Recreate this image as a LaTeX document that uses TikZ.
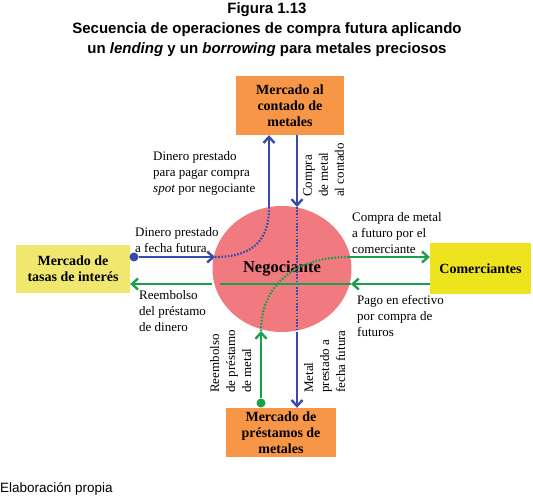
\documentclass[tikz,border=0pt]{standalone}
\usepackage{fontspec}
\setmainfont{Liberation Serif}
\newfontfamily\titlefont{Liberation Sans}
\usepackage{xcolor}
\definecolor{boxorange}{RGB}{247,150,70}
\definecolor{boxyellow}{RGB}{240,232,110}
\definecolor{boxyellowb}{RGB}{238,228,30}
\definecolor{negpink}{RGB}{240,122,128}
\definecolor{flowblue}{RGB}{55,75,170}
\definecolor{flowgreen}{RGB}{25,160,75}
\usepackage{tikz}
\usetikzlibrary{positioning, shapes.geometric, arrows.meta, calc}

\begin{document}
\begin{tikzpicture}[
    x=1pt, y=-1pt,
    market/.style={rectangle, inner sep=2pt, align=center,
                   font=\fontsize{14}{16}\selectfont\bfseries},
    flowlabel/.style={align=left, inner sep=0pt,
                      font=\fontsize{13}{16}\selectfont},
    sidelabel/.style={flowlabel, rotate=90, anchor=north west},
    bluearrow/.style={flowblue, line width=2.4pt, -{Straight Barb[length=6pt, width=11pt, line width=2.4pt]}},
    greenarrow/.style={flowgreen, line width=2.4pt, -{Straight Barb[length=6pt, width=11pt, line width=2.4pt]}},
    blueline/.style={flowblue, line width=2.4pt},
    greenline/.style={flowgreen, line width=2.4pt},
    bluedots/.style={flowblue, line width=2.2pt, dash pattern=on 1.6pt off 1.6pt},
    greendots/.style={flowgreen, line width=2.2pt, dash pattern=on 1.6pt off 1.6pt},
    startdot/.style={circle, inner sep=0pt, minimum size=9pt},
  ]
    \useasboundingbox (0,0) rectangle (533,497);

    % --- Title ---
    \node[font=\titlefont\fontsize{15}{20}\selectfont\bfseries, align=center] (title) at (267,30)
      {Figura 1.13\\Secuencia de operaciones de compra futura aplicando\\
       un \textit{lending} y un \textit{borrowing} para metales preciosos};

    % --- Markets ---
    \node[market, fill=boxorange, minimum width=108pt, minimum height=59pt] (spot) at (290,105.5)
      {Mercado al\\contado de\\metales};
    \node[market, fill=boxyellow, minimum width=114pt, minimum height=48pt] (rates) at (73,269)
      {Mercado de\\tasas de interés};
    \node[market, fill=boxyellowb, minimum width=101pt, minimum height=51pt] (traders) at (480.5,268.5)
      {Comerciantes};
    \node[market, fill=boxorange, minimum width=110pt, minimum height=49pt] (lending) at (281,432.5)
      {Mercado de\\préstamos de\\metales};

    % --- Negociante ---
    \node[ellipse, fill=negpink, minimum width=139pt, minimum height=126pt, inner sep=0pt,
          font=\fontsize{16.5}{18}\selectfont\bfseries] (neg) at (282,269) {\raisebox{3pt}{Negociante}};

    % --- Points on the flows ---
    \coordinate (bin)   at (215,257);
    \coordinate (bup)   at (269,208);
    \coordinate (bdtop) at (297,207);
    \coordinate (bdbot) at (297,332);
    \coordinate (gin)   at (261,331);
    \coordinate (gout)  at (349,257);
    \coordinate (gpay)  at (351,284);
    \coordinate (gleft) at (220,284);

    \node[startdot, fill=flowblue] (bdot) at (134,257) {};
    \node[startdot, fill=flowgreen] (gdot) at (261,403) {};

    % --- Blue flows ---
    \draw[bluearrow] (bdot) -- (bin);
    \draw[bluedots] (bin) .. controls (255,257) and (269,238) .. (bup);
    \draw[bluearrow] (bup) -- (bup |- spot.south);
    \draw[bluearrow] (bdtop |- spot.south) -- (bdtop);
    \draw[bluedots] (bdtop) -- (bdbot);
    \draw[bluearrow] (bdbot) -- (bdbot |- lending.north);

    % --- Green flows ---
    \draw[greenarrow] (gdot) -- (gin);
    \draw[greendots] (gin) .. controls (261,285) and (295,257) .. (gout);
    \draw[greenarrow] (gout) -- (gout -| traders.west);
    \draw[greenarrow] (gpay -| traders.west) -- (gpay);
    \draw[greenline] (gpay) -- (gleft);
    \draw[greenarrow] (neg.west |- gleft) -- (gleft -| rates.east);

    % --- Labels ---
    \node[flowlabel, anchor=north west] (lbspot) at (153,151)
      {Dinero prestado\\para pagar compra\\\textit{spot} por negociante};
    \node[flowlabel, anchor=south west] (lbfut) at (135,253)
      {Dinero prestado\\a fecha futura};
    \node[flowlabel, anchor=north west] (lbrep) at (139,290)
      {Reembolso\\del préstamo\\de dinero};
    \node[flowlabel, anchor=south west] (lbbuy) at (352,254)
      {Compra de metal\\a futuro por el\\comerciante};
    \node[flowlabel, anchor=north west] (lbpay) at (357,295)
      {Pago en efectivo\\por compra de\\futuros};
    \node[sidelabel] (lbcont) at (303,197)
      {Compra\\de metal\\al contado};
    \node[sidelabel] (lbmet) at (210,393)
      {Reembolso\\de préstamo\\de metal};
    \node[sidelabel] (lblent) at (304,393)
      {Metal\\prestado a\\fecha futura};

    % --- Source ---
    \node[font=\titlefont\fontsize{13.5}{14}\selectfont, anchor=west, inner sep=0pt] (source) at (0,489)
      {Elaboración propia};
\end{tikzpicture}
\end{document}
